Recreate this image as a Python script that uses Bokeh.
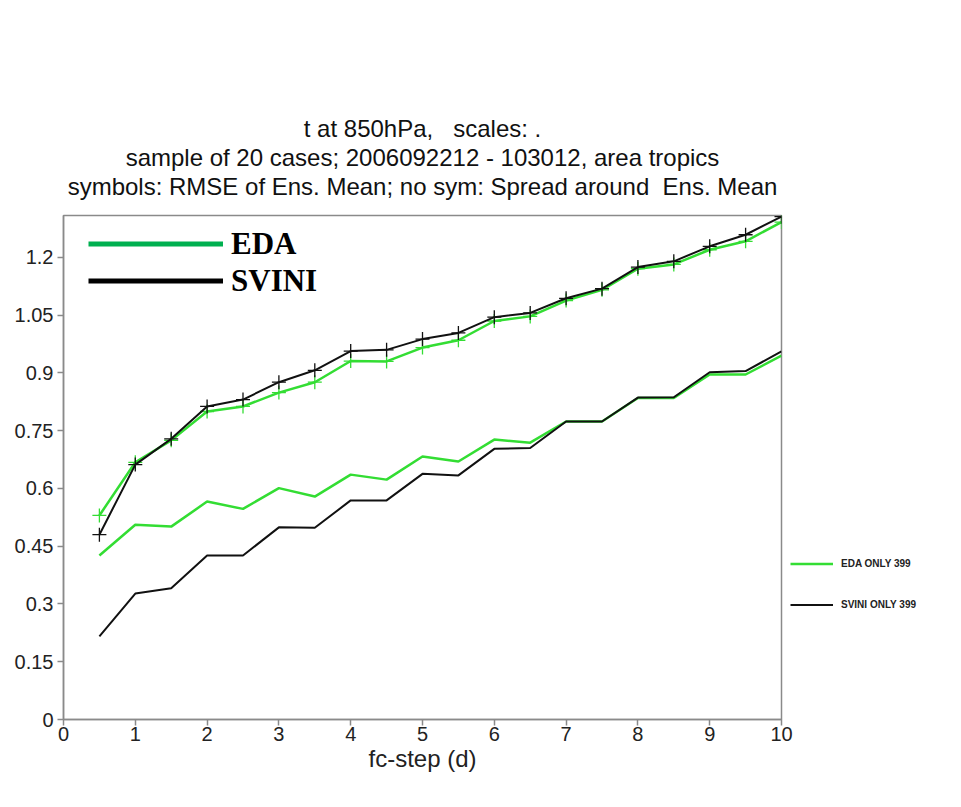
from bokeh.plotting import figure
from bokeh.models import Range1d, FixedTicker, Legend, LegendItem, Title
from bokeh.embed import file_html
from bokeh.resources import INLINE

# ---- data ----
steps = [0.5, 1, 1.5, 2, 2.5, 3, 3.5, 4, 4.5, 5, 5.5, 6, 6.5, 7, 7.5, 8, 8.5, 9, 9.5, 10]
eda_rmse = [0.53, 0.668, 0.725, 0.80, 0.813, 0.849, 0.876, 0.931, 0.930, 0.966, 0.985,
            1.035, 1.047, 1.088, 1.116, 1.171, 1.182, 1.220, 1.242, 1.292]
svini_rmse = [0.48, 0.662, 0.729, 0.813, 0.831, 0.876, 0.907, 0.957, 0.960, 0.988, 1.004,
              1.045, 1.056, 1.094, 1.119, 1.175, 1.190, 1.229, 1.259, 1.306]
eda_spread = [0.426, 0.506, 0.501, 0.566, 0.547, 0.601, 0.579, 0.636, 0.623, 0.683, 0.670,
              0.727, 0.719, 0.774, 0.774, 0.835, 0.835, 0.896, 0.896, 0.945]
svini_spread = [0.216, 0.327, 0.341, 0.426, 0.426, 0.499, 0.498, 0.569, 0.569, 0.638, 0.634,
                0.703, 0.705, 0.774, 0.774, 0.836, 0.837, 0.902, 0.905, 0.956]

x_ticks = [0, 1, 2, 3, 4, 5, 6, 7, 8, 9, 10]
y_ticks = [0, 0.15, 0.3, 0.45, 0.6, 0.75, 0.9, 1.05, 1.2]
y_tick_labels = ["0", "0.15", "0.3", "0.45", "0.6", "0.75", "0.9", "1.05", "1.2"]

title_lines = [
    "t at 850hPa,\u00a0\u00a0 scales: .",
    "sample of 20 cases; 2006092212 - 103012, area tropics",
    "symbols: RMSE of Ens. Mean; no sym: Spread around\u00a0 Ens. Mean",
]
x_label = "fc-step (d)"

# ---- figure ----
p = figure(width=945, height=791, frame_width=718, frame_height=504,
           output_backend="svg", toolbar_location=None,
           x_range=Range1d(0, 10), y_range=Range1d(0, 1.309),
           min_border_left=63, min_border_right=164, min_border_top=215, min_border_bottom=72)
p.title.visible = False
p.background_fill_color = "white"
p.border_fill_color = "white"
p.outline_line_color = "#8a8a8a"
p.outline_line_width = 1.5
p.xgrid.visible = False
p.ygrid.visible = False

# spacer between the frame and the title block
p.add_layout(Title(text="\u00a0", text_font_size="12px", standoff=0), "above")
for t in reversed(title_lines):
    p.add_layout(Title(text=t, align="center", text_font="Liberation Sans",
                       text_font_size="24px", text_font_style="normal",
                       text_color="#111111", standoff=0), "above")

for ax in (p.xaxis[0], p.yaxis[0]):
    ax.axis_line_color = "#8a8a8a"
    ax.axis_line_width = 1.5
    ax.major_tick_line_color = "#8a8a8a"
    ax.major_tick_line_width = 1.5
    ax.major_tick_out = 6
    ax.major_tick_in = 0
    ax.minor_tick_line_color = None
    ax.major_label_text_font = "Liberation Sans"
    ax.major_label_text_font_size = "20px"
    ax.major_label_text_color = "#222222"
    ax.major_label_standoff = 4

p.xaxis.major_label_standoff = 1
p.xaxis.ticker = FixedTicker(ticks=x_ticks)
p.yaxis.ticker = FixedTicker(ticks=y_ticks)
p.yaxis.major_label_overrides = {t: l for t, l in zip(y_ticks, y_tick_labels)}
p.xaxis.axis_label = x_label
p.xaxis.axis_label_text_font = "Liberation Sans"
p.xaxis.axis_label_text_font_size = "24px"
p.xaxis.axis_label_text_font_style = "normal"
p.xaxis.axis_label_text_color = "#222222"
p.xaxis.axis_label_standoff = 1

green = "#33dd33"
black = "#111111"

r_es = p.line(steps, eda_spread, line_color=green, line_width=2.5)
r_ss = p.line(steps, svini_spread, line_color=black, line_width=2)
p.line(steps, eda_rmse, line_color=green, line_width=2.5)
p.scatter(steps, eda_rmse, marker="cross", size=14, line_color=green, line_width=1.3)
p.line(steps, svini_rmse, line_color=black, line_width=2)
p.scatter(steps, svini_rmse, marker="cross", size=14, line_color=black, line_width=1.3)

# top-left pasted legend (dummy renderers with a single NaN point)
nan = float("nan")
d_eda = p.line([nan], [nan], line_color="#00b050", line_width=5)
d_svini = p.line([nan], [nan], line_color="#000000", line_width=5)
leg1 = Legend(items=[LegendItem(label="EDA", renderers=[d_eda]),
                     LegendItem(label="SVINI", renderers=[d_svini])],
              location=(25, 420), padding=0, margin=0, spacing=0,
              glyph_width=135, glyph_height=37, label_height=37, label_standoff=8,
              label_text_font="Liberation Serif", label_text_font_style="bold",
              label_text_font_size="31px", label_text_color="#000000",
              border_line_alpha=0, background_fill_alpha=0)
p.add_layout(leg1, "center")

leg2 = Legend(items=[LegendItem(label="EDA ONLY 399", renderers=[r_es]),
                     LegendItem(label="SVINI ONLY 399", renderers=[r_ss])],
              location=(9, 94), padding=0, margin=0, spacing=0,
              glyph_width=43, glyph_height=41, label_height=41, label_standoff=8,
              label_text_font="Liberation Sans", label_text_font_style="bold",
              label_text_font_size="10px", label_text_color="#222222",
              border_line_alpha=0, background_fill_alpha=0)
p.add_layout(leg2, "right")

open("out.html", "w").write(file_html(p, INLINE))
